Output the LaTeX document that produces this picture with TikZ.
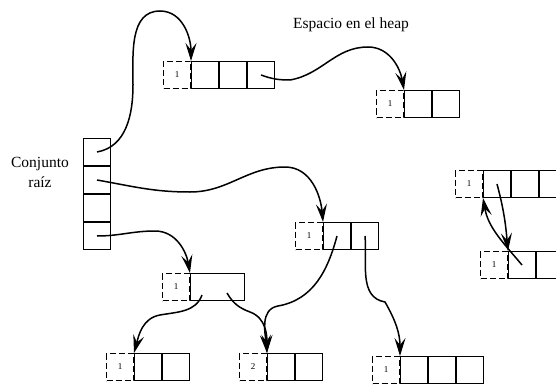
\documentclass[tikz,border=0pt]{standalone}
\usepackage{fontspec}
\setmainfont{Liberation Serif}
\usetikzlibrary{positioning,arrows.meta,calc}

\begin{document}
\begin{tikzpicture}[x=1pt,y=1pt,line width=1pt,
	cnt/.style={draw,dash pattern=on 6pt off 3pt,minimum size=27pt,inner sep=0pt,anchor=north west,font=\fontsize{9}{10}\selectfont},
	cell/.style={draw,minimum size=27pt,inner sep=0pt},
	ptr/.style={line width=1.5pt,arrows={-Stealth[length=18pt,width=11pt,inset=7pt]}},
	txt/.style={font=\fontsize{15.5}{20}\selectfont,align=center}]
\clip (0,0) rectangle (556,-385);

\node[cell,anchor=north west] (r1) at (83,-138) {};
\foreach \j [remember=\j as \i (initially 1)] in {2,3,4}
	\node[cell,below=0pt of r\i] (r\j) {};
\node[txt] (raiz) at (40,-172) {Conjunto\\raíz};
\node[txt] (heap) at (351,-25) {Espacio en el heap};

\foreach \n/\x/\y/\c/\k in {a/163/61/1/3,b/376/90/1/2,c/295/222/1/2,e/106/353/1/2,f/239/353/2/2,g/372/356/1/3,h/455/170/1/3,i/480/251/1/2}{
	\node[cnt] (\n0) at (\x,-\y) {\c};
	\foreach \j [remember=\j as \i (initially 0)] in {1,...,\k}
		\node[cell,right=0pt of \n\i] (\n\j) {};
}
\node[cnt] (d0) at (162,-273) {1};
\node[cell,minimum width=54pt,right=0pt of d0] (d1) {};

\draw[ptr] (r1.center) to[out=10,in=-90] (133,-85) to[out=90,in=180] (160,-11) to[out=0,in=90] (a1.north west);
\draw[ptr] (a3.center) to[out=-20,in=180] (290,-80) to[out=10,in=180] (368,-47) to[out=0,in=100] (b1.north west);
\draw[ptr] (r2.center) to[out=-10,in=180] (190,-192) to[out=0,in=180] (285,-167) to[out=0,in=95] (c1.north west);
\draw[ptr] (r4.center) to[out=0,in=180] (155,-231) to[out=0,in=100] (d1.north west);
\draw[ptr] ($(d1.west)+(12,-8)$) to[out=-110,in=10] (160,-315) to[out=190,in=75] (e1.north west);
\draw[ptr] ($(d1.west)+(37,-6)$) to[out=-60,in=160] (250,-312) to[out=-20,in=90] (f1.north west);
\draw[ptr] (c1.center) to[out=-105,in=10] (278,-306) to[out=190,in=95] (f1.north west);
\draw[ptr] (c2.center) to[out=-85,in=170] (385,-302) to[out=-60,in=90] (g1.north west);
\draw[ptr] (h1.center) to[out=-75,in=95] (i1.north west);
\draw[ptr] (i1.center) to[out=130,in=-80] (h1.south west);
\end{tikzpicture}
\end{document}
